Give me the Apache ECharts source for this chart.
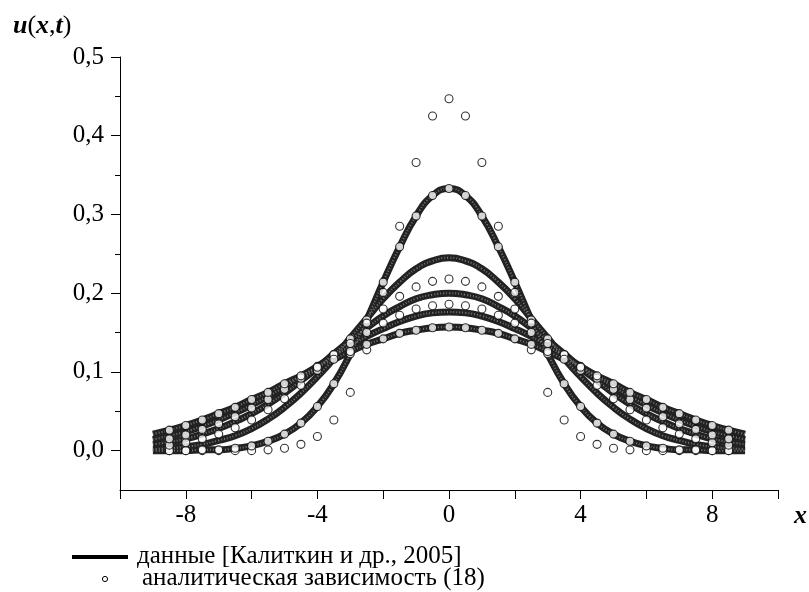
<!DOCTYPE html>
<html>
<head>
<meta charset="utf-8">
<script src="https://cdn.jsdelivr.net/npm/echarts@6/dist/echarts.min.js"></script>
<style>html,body{margin:0;padding:0;background:#fff}#c{width:809px;height:592px}</style>
</head>
<body>
<div id="c"></div>
<script>
// x positions
var xNum = [-9,-8.5,-8,-7.5,-7,-6.5,-6,-5.5,-5,-4.5,-4,-3.5,-3,-2.5,-2,-1.5,-1,-0.5,0,0.5,1,1.5,2,2.5,3,3.5,4,4.5,5,5.5,6,6.5,7,7.5,8,8.5,9];
var xAna = [-8.5,-8,-7.5,-7,-6.5,-6,-5.5,-5,-4.5,-4,-3.5,-3,-2.5,-2,-1.5,-1,-0.5,0,0.5,1,1.5,2,2.5,3,3.5,4,4.5,5,5.5,6,6.5,7,7.5,8,8.5];

// numerical data [Калиткин и др., 2005]
var num1 = [0.000,0.000,0.000,0.001,0.001,0.003,0.006,0.012,0.021,0.035,0.056,0.085,0.123,0.166,0.214,0.259,0.298,0.324,0.333,0.324,0.298,0.259,0.214,0.166,0.123,0.085,0.056,0.035,0.021,0.012,0.006,0.003,0.001,0.001,0.000,0.000,0.000];
var num2 = [0.002,0.003,0.005,0.008,0.013,0.019,0.028,0.040,0.055,0.073,0.094,0.117,0.143,0.168,0.193,0.214,0.231,0.241,0.245,0.241,0.231,0.214,0.193,0.168,0.143,0.117,0.094,0.073,0.055,0.040,0.028,0.019,0.013,0.008,0.005,0.003,0.002];
var num3 = [0.008,0.011,0.015,0.021,0.028,0.037,0.047,0.059,0.073,0.089,0.105,0.123,0.140,0.156,0.171,0.183,0.193,0.198,0.200,0.198,0.193,0.183,0.171,0.156,0.140,0.123,0.105,0.089,0.073,0.059,0.047,0.037,0.028,0.021,0.015,0.011,0.008];
var num4 = [0.014,0.019,0.024,0.031,0.039,0.048,0.058,0.069,0.081,0.094,0.107,0.120,0.133,0.145,0.155,0.164,0.171,0.175,0.176,0.175,0.171,0.164,0.155,0.145,0.133,0.120,0.107,0.094,0.081,0.069,0.058,0.048,0.039,0.031,0.024,0.019,0.014];
var num5 = [0.021,0.026,0.032,0.039,0.047,0.055,0.065,0.074,0.085,0.095,0.106,0.116,0.126,0.135,0.142,0.149,0.153,0.156,0.157,0.156,0.153,0.149,0.142,0.135,0.126,0.116,0.106,0.095,0.085,0.074,0.065,0.055,0.047,0.039,0.032,0.026,0.021];

// analytic dependence (18)
var ana1 = [0.000,0.000,0.000,0.000,0.000,0.000,0.001,0.003,0.008,0.018,0.039,0.074,0.128,0.201,0.285,0.366,0.425,0.447,0.425,0.366,0.285,0.201,0.128,0.074,0.039,0.018,0.008,0.003,0.001,0.000,0.000,0.000,0.000,0.000,0.000];
var ana2 = [0.000,0.000,0.001,0.001,0.003,0.006,0.012,0.021,0.035,0.056,0.085,0.123,0.166,0.214,0.259,0.298,0.324,0.333,0.324,0.298,0.259,0.214,0.166,0.123,0.085,0.056,0.035,0.021,0.012,0.006,0.003,0.001,0.001,0.000,0.000];
var ana3 = [0.007,0.010,0.015,0.021,0.029,0.039,0.052,0.066,0.083,0.102,0.122,0.142,0.162,0.180,0.196,0.208,0.215,0.218,0.215,0.208,0.196,0.180,0.162,0.142,0.122,0.102,0.083,0.066,0.052,0.039,0.029,0.021,0.015,0.010,0.007];
var ana4 = [0.015,0.020,0.027,0.034,0.043,0.054,0.065,0.078,0.092,0.107,0.122,0.136,0.150,0.162,0.172,0.180,0.184,0.186,0.184,0.180,0.172,0.162,0.150,0.136,0.122,0.107,0.092,0.078,0.065,0.054,0.043,0.034,0.027,0.020,0.015];
var ana5 = [0.026,0.032,0.039,0.047,0.055,0.065,0.074,0.085,0.095,0.106,0.116,0.126,0.135,0.142,0.149,0.153,0.156,0.157,0.156,0.153,0.149,0.142,0.135,0.126,0.116,0.106,0.095,0.085,0.074,0.065,0.055,0.047,0.039,0.032,0.026];

// ticks
var xTicks = [-10,-8,-6,-4,-2,0,2,4,6,8,10];
var xLabels = [-8,-4,0,4,8];
var yMajor = [0,0.1,0.2,0.3,0.4,0.5];
var yMinor = [0.05,0.15,0.25,0.35,0.45];

var legendNum = 'данные [Калиткин и др., 2005]';
var legendAna = 'аналитическая зависимость (18)';

var FONT = 'Liberation Serif';
function pairs(xs, ys){ return xs.map(function(x,i){ return [x, ys[i]]; }); }

var numSeries = [num1,num2,num3,num4,num5].map(function(d){
  return { type:'line', data: pairs(xNum,d), smooth:true, symbol:'none', z:2,
    lineStyle:{ color:'#222', width:7, cap:'butt' }, silent:true };
});
var numTex = [num1,num2,num3,num4,num5].map(function(d){
  return { type:'line', data: pairs(xNum,d), smooth:true, symbol:'none', z:2,
    lineStyle:{ color:'#777', width:2, type:[1,2], cap:'butt' }, silent:true };
});
var anaSeries = [ana1,ana2,ana3,ana4,ana5].map(function(d){
  return { type:'scatter', data: pairs(xAna,d), symbol:'circle', symbolSize:8, z:3,
    itemStyle:{ color:'#fff', borderColor:'#000', borderWidth:1.1 }, silent:true };
});

var titleRich = {
  bi:{ fontFamily:FONT, fontSize:26, fontWeight:'bold', fontStyle:'italic', fill:'#000' },
  r:{ fontFamily:FONT, fontSize:26, fill:'#000' }
};

var chart = echarts.init(document.getElementById('c'), null, {renderer:'canvas'});
chart.setOption({
  animation:false,
  backgroundColor:'#fff',
  grid:{ left:120, right:31, top:57, bottom:102, containLabel:false },
  xAxis:{ type:'value', min:-10, max:10, interval:2,
    axisLine:{ onZero:false, lineStyle:{ color:'#000', width:1 } },
    axisTick:{ customValues:xTicks, length:9, inside:false, lineStyle:{ color:'#000' } },
    axisLabel:{ customValues:xLabels, margin:13, color:'#000', fontFamily:FONT, fontSize:25,
      formatter:function(v){ return String(v); } },
    splitLine:{ show:false } },
  yAxis:[
    { type:'value', min:-0.05, max:0.5, position:'left',
      axisLine:{ show:true, onZero:false, lineStyle:{ color:'#000', width:1 } },
      axisTick:{ customValues:yMajor, length:9, lineStyle:{ color:'#000' } },
      axisLabel:{ customValues:yMajor, margin:16, color:'#000', fontFamily:FONT, fontSize:25,
        formatter:function(v){ return v.toFixed(1).replace('.', ','); } },
      splitLine:{ show:false } },
    { type:'value', min:-0.05, max:0.5, position:'left',
      axisLine:{ show:false, onZero:false },
      axisTick:{ customValues:yMinor, length:5, lineStyle:{ color:'#000' } },
      axisLabel:{ show:false }, splitLine:{ show:false } }
  ],
  series: numSeries.concat(numTex, anaSeries),
  graphic:[
    { type:'text', left:13, top:13, style:{ text:'{bi|u}{r|(}{bi|x}{r|,}{bi|t}{r|)}', rich:titleRich, fill:'#000' } },
    { type:'text', left:794, top:503, style:{ text:'x', fontFamily:FONT, fontSize:26, fontWeight:'bold', fontStyle:'italic', fill:'#000' } },
    { type:'line', shape:{ x1:72, y1:557, x2:128, y2:557 }, style:{ stroke:'#000', lineWidth:4 } },
    { type:'text', x:137, y:556, style:{ text:legendNum, fontFamily:FONT, fontSize:25, fill:'#000', verticalAlign:'middle' } },
    { type:'circle', shape:{ cx:105, cy:579, r:2.6 }, style:{ fill:'#fff', stroke:'#000', lineWidth:1 } },
    { type:'text', x:142, y:578, style:{ text:legendAna, fontFamily:FONT, fontSize:25, fill:'#000', verticalAlign:'middle' } }
  ]
});
</script>
</body>
</html>
